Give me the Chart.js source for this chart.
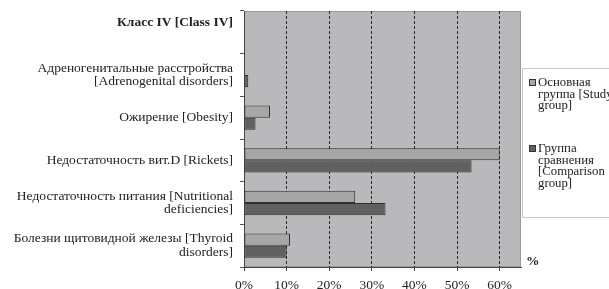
<!DOCTYPE html>
<html>
<head>
<meta charset="utf-8">
<script src="https://cdn.jsdelivr.net/npm/chart.js@4.4.0/dist/chart.umd.min.js"></script>
<style>
  html, body { margin: 0; padding: 0; background: #fff; overflow: hidden; }
  #wrap { position: relative; width: 609px; height: 289px; overflow: hidden; }
  #legend {
    position: absolute; left: 522px; top: 68px; width: 110px; height: 148px;
    border: 1px solid #c8c8c8; background: #fff;
    font: 12.8px 'Liberation Serif', serif; color: #222; line-height: 11.5px;
  }
  .item { position: absolute; left: 15px; white-space: nowrap; }
  .swatch { position: absolute; left: -9px; top: 2px; width: 5px; height: 5px; border: 1px solid #333; }
  #pct { position: absolute; left: 526px; top: 253px; font: bold 13.5px 'Liberation Serif', serif; color: #222; }
</style>
</head>
<body>
<div id="wrap">
  <canvas id="chart" width="609" height="289"></canvas>
  <div id="legend"></div>
  <div id="pct">%</div>
</div>
<script>
  // категории (первая строка - заголовок класса, без столбиков)
  const categories = [
    ['Класс IV [Class IV]', '\u00a0'],
    ['Адреногенитальные расстройства', '[Adrenogenital disorders]'],
    'Ожирение [Obesity]',
    'Недостаточность вит.D [Rickets]',
    ['Недостаточность питания [Nutritional', 'deficiencies]'],
    ['Болезни щитовидной железы [Thyroid', 'disorders]'],
  ];
  const studyGroup = [null, 0, 6.1, 60, 26.1, 10.8];
  const comparisonGroup = [null, 1, 2.7, 53.4, 33.2, 10];
  const seriesNames = [
    ['Основная', 'группа [Study', 'group]'],
    ['Группа', 'сравнения', '[Comparison', 'group]'],
  ];
  const xTickValues = [0, 10, 20, 30, 40, 50, 60];
  const xMax = 65;

  const colors = ['#a6a6a6', '#606060'];

  // серый фон области построения
  const plotBg = {
    id: 'plotBg',
    beforeDraw(chart) {
      const { ctx, chartArea: a } = chart;
      ctx.save();
      ctx.fillStyle = '#b9b9bb';
      ctx.fillRect(a.left, a.top, a.right - a.left, a.bottom - a.top);
      ctx.strokeStyle = '#9a9a9a';
      ctx.lineWidth = 1;
      ctx.strokeRect(a.left + 0.5, a.top + 0.5, a.right - a.left - 1, a.bottom - a.top - 1);
      ctx.restore();
    },
  };

  new Chart(document.getElementById('chart'), {
    type: 'bar',
    data: {
      labels: categories,
      datasets: [
        { label: 'Study', data: studyGroup, backgroundColor: colors[0] },
        { label: 'Comparison', data: comparisonGroup, backgroundColor: colors[1] },
      ].map((d) => ({
        ...d,
        borderColor: '#2e2e2e',
        borderWidth: 1,
        borderSkipped: false,
        categoryPercentage: 0.57,
        barPercentage: 1,
      })),
    },
    options: {
      indexAxis: 'y',
      responsive: false,
      animation: false,
      layout: { padding: { top: 11, right: 88, left: 0, bottom: 0 } },
      plugins: { legend: { display: false }, tooltip: { enabled: false } },
      scales: {
        x: {
          min: 0,
          max: xMax,
          afterBuildTicks: (s) => { s.ticks = xTickValues.map((v) => ({ value: v })); },
          afterFit: (s) => { s.height = 22; },
          ticks: {
            callback: (v) => v + '%',
            font: { family: "'Liberation Serif', serif", size: 13.5 },
            color: '#222',
            padding: 6,
            maxRotation: 0,
            autoSkip: false,
          },
          grid: {
            color: (c) => (c.tick && c.tick.value === 0 ? 'rgba(0,0,0,0)' : '#2a2a2a'),
            tickColor: '#444',
            tickLength: 4,
          },
          border: { display: true, color: '#444', dash: [3, 2] },
        },
        y: {
          afterFit: (s) => {
            s.width = 244;
            // подписи не должны сдвигать область построения
            s.paddingTop = 0;
            s.paddingBottom = 0;
          },
          grid: { offset: true, drawOnChartArea: false, tickLength: 4, color: '#555' },
          border: { color: '#444' },
          ticks: {
            color: '#222',
            padding: 7,
            autoSkip: false,
            font: (c) => ({
              family: "'Liberation Serif', serif",
              size: 13.5,
              weight: c.index === 0 ? 'bold' : 'normal',
              lineHeight: c.index === 0 ? 1.4 : 1.0,
            }),
          },
        },
      },
    },
    plugins: [plotBg],
  });

  // легенда справа, многострочные подписи
  const legend = document.getElementById('legend');
  const tops = [8, 74];
  seriesNames.forEach((lines, i) => {
    const item = document.createElement('div');
    item.className = 'item';
    item.style.top = tops[i] + 'px';
    item.innerHTML = '<span class="swatch" style="background:' + colors[i] + '"></span>' + lines.join('<br>');
    legend.appendChild(item);
  });
</script>
</body>
</html>
